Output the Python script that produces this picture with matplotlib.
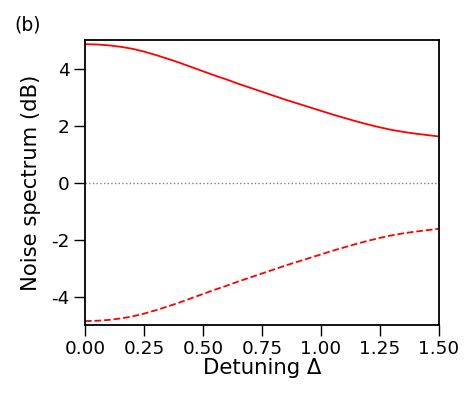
import numpy as np
import matplotlib
matplotlib.use("Agg")
import matplotlib.pyplot as plt

plt.rcParams["axes.unicode_minus"] = False

# detuning values and noise spectra
detuning = [0.00, 0.05, 0.10, 0.15, 0.20, 0.25, 0.30, 0.35, 0.40, 0.45,
            0.50, 0.55, 0.60, 0.65, 0.70, 0.75, 0.80, 0.85, 0.90, 0.95,
            1.00, 1.05, 1.10, 1.15, 1.20, 1.25, 1.30, 1.35, 1.40, 1.45, 1.50]
noise_upper = [4.86, 4.85, 4.82, 4.77, 4.70, 4.60, 4.48, 4.35, 4.21, 4.06,
               3.91, 3.76, 3.62, 3.47, 3.33, 3.19, 3.05, 2.91, 2.78, 2.65,
               2.52, 2.39, 2.27, 2.15, 2.04, 1.94, 1.85, 1.78, 1.72, 1.67, 1.62]
noise_lower = [-4.86, -4.85, -4.82, -4.77, -4.70, -4.60, -4.48, -4.35, -4.21, -4.06,
               -3.91, -3.76, -3.62, -3.47, -3.33, -3.19, -3.05, -2.91, -2.78, -2.65,
               -2.52, -2.39, -2.27, -2.15, -2.04, -1.94, -1.85, -1.78, -1.72, -1.67, -1.62]
xticks = [0.00, 0.25, 0.50, 0.75, 1.00, 1.25, 1.50]
yticks = [-4, -2, 0, 2, 4]

fig = plt.figure(figsize=(4.72, 3.94), dpi=100)
ax = fig.add_axes([0.180, 0.175, 0.750, 0.723])

ax.plot(detuning, noise_upper, color="red", lw=1.3)
ax.plot(detuning, noise_lower, color="red", lw=1.3, linestyle="--")
ax.axhline(0, color="gray", lw=1.0, linestyle=":")

ax.set_xlim(0, 1.5)
ax.set_ylim(-5, 5)
ax.set_xticks(xticks)
ax.set_xticklabels([f"{t:.2f}" for t in xticks])
ax.set_yticks(yticks)
ax.tick_params(direction="out", length=8, width=1, labelsize=13.3, pad=3)
for s in ax.spines.values():
    s.set_linewidth(1.3)

ax.set_xlabel("Detuning Δ", fontsize=15.3, labelpad=0)
ax.set_ylabel("Noise spectrum (dB)", fontsize=15.2, labelpad=7)
fig.text(0.03, 0.937, "(b)", fontsize=13.5, va="center", ha="left")

fig.savefig("out.png", dpi=100)
